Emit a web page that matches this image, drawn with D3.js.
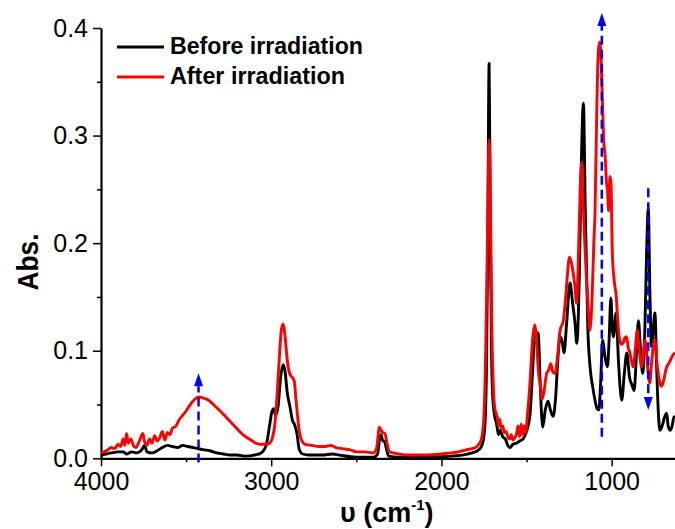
<!DOCTYPE html>
<html>
<head>
<meta charset="utf-8">
<script src="https://cdn.jsdelivr.net/npm/d3@7"></script>
<style>
body { margin: 0; background: #fff; }
svg { display: block; font-family: "Liberation Sans", Arial, sans-serif; }
</style>
</head>
<body>
<div id="chart"></div>
<script>
// wavenumber (cm-1) / absorbance
const beforeWn = [4000,3970,3940,3900,3870,3850,3820,3790,3760,3745,3730,3700,3670,3640,3610,3580,3550,3520,3490,3460,3430,3400,3360,3320,3280,3240,3200,3150,3100,3060,3030,3010,2995,2985,2975,2960,2945,2930,2920,2905,2890,2875,2862,2850,2835,2815,2780,2700,2640,2600,2500,2400,2375,2362,2355,2345,2335,2325,2310,2250,2150,2050,1950,1880,1820,1780,1760,1745,1735,1728,1720,1713,1706,1698,1688,1676,1665,1655,1640,1625,1610,1597,1580,1560,1540,1520,1500,1480,1465,1455,1440,1431,1420,1405,1390,1374,1360,1344,1330,1315,1303,1290,1280,1265,1245,1230,1215,1205,1190,1180,1166,1155,1140,1127,1110,1098,1085,1075,1065,1053,1040,1025,1015,1005,995,990,974,960,941,925,911,895,880,868,855,843,830,818,805,795,785,775,766,756,746,735,725,716,700,690,677,668,657,645,635,628];
const beforeAbs = [0.003,0.004,0.005,0.006,0.006,0.004,0.006,0.005,0.008,0.012,0.006,0.005,0.007,0.010,0.012,0.011,0.010,0.012,0.011,0.010,0.009,0.008,0.007,0.005,0.004,0.003,0.003,0.002,0.003,0.005,0.012,0.030,0.044,0.046,0.040,0.048,0.075,0.087,0.082,0.060,0.048,0.035,0.031,0.024,0.008,0.004,0.003,0.003,0.004,0.003,0.001,0.001,0.004,0.020,0.022,0.016,0.016,0.010,0.002,0.001,0.001,0.001,0.002,0.003,0.005,0.008,0.013,0.030,0.090,0.200,0.367,0.220,0.100,0.055,0.040,0.032,0.022,0.026,0.020,0.018,0.012,0.010,0.013,0.014,0.016,0.018,0.025,0.040,0.080,0.108,0.117,0.116,0.070,0.029,0.045,0.053,0.045,0.039,0.055,0.095,0.113,0.108,0.098,0.125,0.163,0.145,0.125,0.107,0.170,0.260,0.330,0.230,0.120,0.085,0.065,0.054,0.046,0.045,0.070,0.110,0.095,0.085,0.110,0.149,0.118,0.113,0.135,0.090,0.054,0.080,0.098,0.075,0.068,0.063,0.095,0.128,0.100,0.079,0.120,0.190,0.232,0.150,0.104,0.120,0.135,0.080,0.040,0.026,0.032,0.038,0.042,0.030,0.026,0.030,0.038,0.039];

const afterWn = [4000,3980,3960,3940,3920,3900,3885,3870,3860,3850,3840,3825,3810,3795,3780,3765,3755,3745,3730,3715,3700,3685,3670,3655,3640,3625,3610,3595,3580,3560,3540,3520,3500,3480,3460,3440,3420,3400,3380,3360,3340,3320,3300,3270,3240,3210,3180,3150,3120,3090,3060,3030,3010,2995,2980,2965,2950,2940,2930,2920,2905,2890,2875,2864,2855,2845,2835,2822,2800,2760,2720,2680,2650,2620,2580,2540,2500,2450,2400,2380,2365,2355,2345,2332,2320,2305,2250,2200,2100,2000,1950,1900,1850,1800,1780,1765,1752,1740,1730,1720,1712,1704,1696,1688,1680,1672,1665,1657,1650,1640,1630,1620,1610,1600,1590,1580,1570,1560,1550,1540,1532,1525,1515,1505,1495,1480,1465,1452,1440,1430,1421,1408,1395,1382,1370,1358,1345,1333,1318,1303,1284,1270,1255,1249,1237,1226,1216,1206,1195,1185,1177,1168,1158,1148,1138,1128,1115,1105,1098,1088,1078,1070,1062,1054,1047,1038,1030,1025,1018,1010,1004,996,985,973,963,953,943,933,923,913,903,893,883,874,862,850,838,824,815,805,795,786,776,766,756,746,735,720,707,695,685,677,665,650,640,628];
const afterAbs = [0.005,0.006,0.008,0.010,0.009,0.013,0.011,0.018,0.012,0.023,0.014,0.018,0.012,0.010,0.014,0.020,0.023,0.016,0.012,0.018,0.014,0.021,0.016,0.019,0.025,0.017,0.024,0.022,0.028,0.030,0.036,0.040,0.044,0.049,0.053,0.056,0.057,0.056,0.055,0.053,0.050,0.047,0.044,0.039,0.034,0.029,0.024,0.020,0.017,0.014,0.013,0.013,0.014,0.018,0.030,0.060,0.100,0.120,0.125,0.115,0.090,0.078,0.075,0.071,0.055,0.039,0.025,0.017,0.013,0.012,0.011,0.011,0.012,0.010,0.009,0.008,0.006,0.006,0.005,0.010,0.029,0.026,0.024,0.023,0.014,0.006,0.004,0.003,0.003,0.004,0.005,0.006,0.008,0.010,0.013,0.018,0.035,0.100,0.200,0.296,0.230,0.120,0.070,0.048,0.042,0.038,0.030,0.036,0.028,0.030,0.024,0.025,0.020,0.018,0.022,0.017,0.019,0.022,0.030,0.020,0.032,0.022,0.030,0.024,0.040,0.070,0.110,0.124,0.105,0.080,0.070,0.055,0.065,0.079,0.082,0.088,0.080,0.079,0.095,0.119,0.128,0.150,0.180,0.187,0.182,0.172,0.160,0.144,0.190,0.250,0.275,0.240,0.200,0.166,0.140,0.119,0.150,0.200,0.228,0.320,0.380,0.387,0.370,0.330,0.296,0.280,0.255,0.250,0.230,0.262,0.255,0.190,0.165,0.150,0.125,0.110,0.106,0.107,0.112,0.113,0.103,0.098,0.090,0.085,0.100,0.119,0.100,0.085,0.097,0.110,0.098,0.080,0.070,0.088,0.104,0.110,0.090,0.072,0.067,0.072,0.080,0.085,0.088,0.093,0.096,0.098];

const seriesNames = ['Before irradiation', 'After irradiation'];
const seriesColors = ['#000000', '#ff0000'];

const xMajor = [4000, 3000, 2000, 1000];
const xMinor = [3500, 2500, 1500];
const yMajor = [0.0, 0.1, 0.2, 0.3, 0.4];
const yMinor = [0.05, 0.15, 0.25, 0.35];

// dashed arrows: position, start, end (absorbance)
const arrowWn = [3427, 1058, 785];
const arrowFrom = [-0.004, 0.020, 0.251];
const arrowTo = [0.079, 0.414, 0.045];

const svgWidth = 675, svgHeight = 529;
const plotLeft = 101, plotRight = 675, plotTop = 28, plotBottom = 458.3;

const svg = d3.select('#chart')
    .append('svg')
    .attr('width', svgWidth)
    .attr('height', svgHeight);

const xScale = d3.scaleLinear().domain([4000, 628]).range([plotLeft, plotRight]);
const yScale = d3.scaleLinear().domain([0, 0.4]).range([plotBottom, plotTop]);

// axes
svg.append('g')
    .attr('transform', `translate(0, ${plotBottom})`)
    .call(d3.axisBottom(xScale).tickValues(xMajor).tickSize(8).tickSizeOuter(0).tickPadding(6).tickFormat(d3.format('d')));
svg.append('g')
    .attr('transform', `translate(0, ${plotBottom})`)
    .call(d3.axisBottom(xScale).tickValues(xMinor).tickSize(4).tickSizeOuter(0).tickFormat(''))
    .select('.domain').remove();

svg.append('g')
    .attr('transform', `translate(${plotLeft}, 0)`)
    .call(d3.axisLeft(yScale).tickValues(yMajor).tickSize(8).tickSizeOuter(0).tickPadding(5).tickFormat(d3.format('.1f')));
svg.append('g')
    .attr('transform', `translate(${plotLeft}, 0)`)
    .call(d3.axisLeft(yScale).tickValues(yMinor).tickSize(4).tickSizeOuter(0).tickFormat(''))
    .select('.domain').remove();

svg.selectAll('.domain').attr('stroke-width', 2.2).attr('stroke', '#000');
svg.selectAll('.tick line').attr('stroke-width', 1.5).attr('stroke', '#000');
svg.selectAll('.tick text')
    .attr('font-family', '"Liberation Sans", Arial, sans-serif')
    .attr('font-size', 25)
    .attr('fill', '#000');

// spectra
const line = d3.line()
    .x(d => xScale(d[0]))
    .y(d => yScale(d[1]))
    .curve(d3.curveMonotoneX);

const before = beforeWn.map((w, i) => [w, beforeAbs[i]]);
const after = afterWn.map((w, i) => [w, afterAbs[i]]);

[before, after].forEach((data, i) => {
    svg.append('path')
        .datum(data)
        .attr('fill', 'none')
        .attr('stroke', seriesColors[i])
        .attr('stroke-width', 2.9)
        .attr('stroke-linejoin', 'round')
        .attr('d', line);
});

// blue arrows
arrowWn.forEach((w, i) => {
    const x = xScale(w);
    const y0 = yScale(arrowFrom[i]);
    const y1 = yScale(arrowTo[i]);
    const dir = y1 < y0 ? 1 : -1; // 1 = pointing up
    const headLen = 13, headW = 4.5;
    svg.append('line')
        .attr('x1', x).attr('x2', x)
        .attr('y1', y0).attr('y2', y1 + dir * headLen)
        .attr('stroke', '#0000ff')
        .attr('stroke-width', 2.5)
        .attr('stroke-dasharray', '9,5');
    svg.append('path')
        .attr('d', `M${x},${y1} L${x - headW},${y1 + dir * headLen} L${x + headW},${y1 + dir * headLen} Z`)
        .attr('fill', '#0000ff');
});

// legend
const legend = svg.append('g').attr('id', 'legend');
const legendY = [47, 77];
const legendLen = [193, 175];
seriesNames.forEach((name, i) => {
    legend.append('line')
        .attr('x1', 117).attr('x2', 164)
        .attr('y1', legendY[i]).attr('y2', legendY[i])
        .attr('stroke', seriesColors[i])
        .attr('stroke-width', 3);
    legend.append('text')
        .attr('x', 170)
        .attr('y', legendY[i] + 6.5)
        .attr('font-size', 24)
        .attr('font-weight', 'bold')
        .attr('textLength', legendLen[i])
        .attr('lengthAdjust', 'spacingAndGlyphs')
        .text(name);
});

// axis titles
svg.append('text')
    .attr('transform', 'translate(38, 262) rotate(-90)')
    .attr('text-anchor', 'middle')
    .attr('font-size', 30)
    .attr('font-weight', 'bold')
    .attr('textLength', 57)
    .attr('lengthAdjust', 'spacingAndGlyphs')
    .text('Abs.');

const xTitle = svg.append('text')
    .attr('x', 340)
    .attr('y', 522)
    .attr('font-size', 27)
    .attr('font-weight', 'bold');
xTitle.append('tspan').text('υ (cm');
xTitle.append('tspan').attr('font-size', 15).attr('dy', -12).text('-1');
xTitle.append('tspan').attr('dy', 12).text(')');
</script>
</body>
</html>
